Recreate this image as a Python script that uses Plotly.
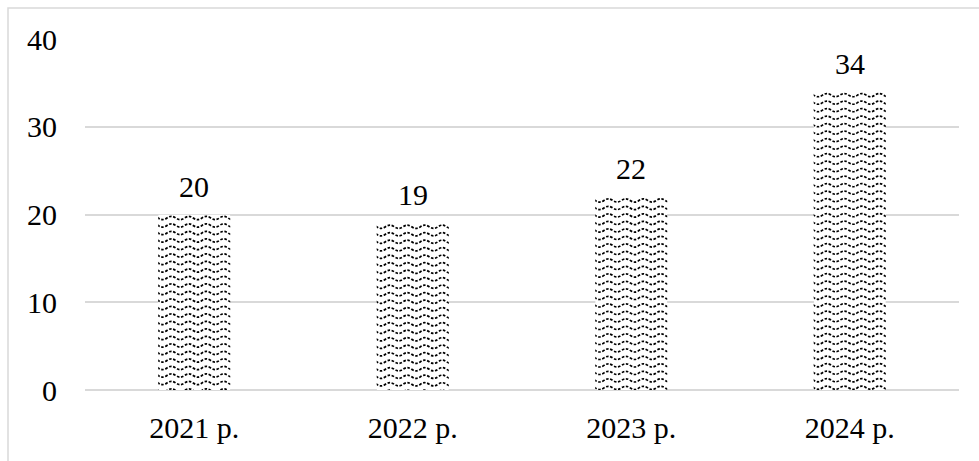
import base64
import plotly.graph_objects as go

# Data
years = ["2021 р.", "2022 р.", "2023 р.", "2024 р."]
counts = [20, 19, 22, 34]
y_ticks = [0, 10, 20, 30, 40]

# Layout constants (pixels)
W, H = 979, 461
M_L, M_R, M_T, M_B = 85, 20, 39, 71
PLOT_W = W - M_L - M_R
PLOT_H = H - M_T - M_B
Y_MAX = 40
BAR_FRAC = 0.33
FONT = "Liberation Serif"
GRID = "#d9d9d9"


def wave_svg(w_px, h_px):
    """Dotted wavy texture filling a w_px x h_px box."""
    period, row = 17.5, 7.5
    amp = 1.6
    paths = []
    y = 3.5
    while y < h_px + row:
        d = f"M{-period/2:.1f},{y:.1f}"
        x = -period / 2
        up = True
        while x < w_px + period:
            cy = y - amp * 2 if up else y + amp * 2
            d += f" Q{x + period/4:.2f},{cy:.2f} {x + period/2:.2f},{y:.2f}"
            x += period / 2
            up = not up
        paths.append(d)
        y += row
    body = "".join(
        f'<path d="{p}" fill="none" stroke="#000" stroke-width="1.7" '
        f'stroke-dasharray="2.6 1.6"/>'
        for p in paths
    )
    svg = (
        f'<svg xmlns="http://www.w3.org/2000/svg" width="{w_px:.1f}" height="{h_px:.1f}" '
        f'viewBox="0 0 {w_px:.1f} {h_px:.1f}" preserveAspectRatio="none">'
        f'<rect width="100%" height="100%" fill="#fff"/>{body}</svg>'
    )
    return "data:image/svg+xml;base64," + base64.b64encode(svg.encode()).decode()


fig = go.Figure(
    go.Bar(
        x=list(range(len(years))),
        y=counts,
        width=BAR_FRAC,
        marker=dict(color="rgba(255,255,255,0)", line=dict(width=0)),
        hoverinfo="x+y",
    )
)

# Textured fill for each bar, sized from its value
cat_px = PLOT_W / len(years)
images = []
for i, v in enumerate(counts):
    w_px = BAR_FRAC * cat_px
    h_px = v / Y_MAX * PLOT_H
    images.append(
        dict(
            source=wave_svg(w_px, h_px),
            xref="x", yref="y",
            x=i, y=v,
            sizex=BAR_FRAC, sizey=v,
            xanchor="center", yanchor="top",
            sizing="stretch",
            layer="above",
        )
    )

# Value labels
annotations = [
    dict(
        x=i, y=v, xref="x", yref="y",
        text=str(v), showarrow=False,
        yanchor="bottom", yshift=10,
        font=dict(family=FONT, size=30, color="#000"),
    )
    for i, v in enumerate(counts)
]

# Chart-area frame
frame = dict(
    type="rect", xref="paper", yref="paper",
    x0=(8 - M_L) / PLOT_W, x1=(W + 10 - M_L) / PLOT_W,
    y0=(M_T + PLOT_H - (H + 10)) / PLOT_H, y1=(M_T + PLOT_H - 8) / PLOT_H,
    line=dict(color=GRID, width=1.5), fillcolor="rgba(0,0,0,0)",
    layer="below",
)

fig.update_layout(
    width=W, height=H,
    margin=dict(l=M_L, r=M_R, t=M_T, b=M_B),
    paper_bgcolor="#fff", plot_bgcolor="#fff",
    showlegend=False,
    images=images,
    annotations=annotations,
    shapes=[frame],
    font=dict(family=FONT, size=30, color="#000"),
    xaxis=dict(
        range=[-0.5, len(years) - 0.5],
        tickmode="array", tickvals=list(range(len(years))), ticktext=years,
        showgrid=False, zeroline=False, showline=False, ticks="",
        tickfont=dict(family=FONT, size=30, color="#000"),
        ticklabelstandoff=17,
    ),
    yaxis=dict(
        range=[0, Y_MAX],
        tickmode="array", tickvals=y_ticks,
        showgrid=True, gridcolor=GRID, gridwidth=1.5,
        zeroline=True, zerolinecolor=GRID, zerolinewidth=1.5,
        showline=False, ticks="",
        tickfont=dict(family=FONT, size=30, color="#000"),
        ticklabelstandoff=27,
    ),
)

fig.write_html("out.html")
